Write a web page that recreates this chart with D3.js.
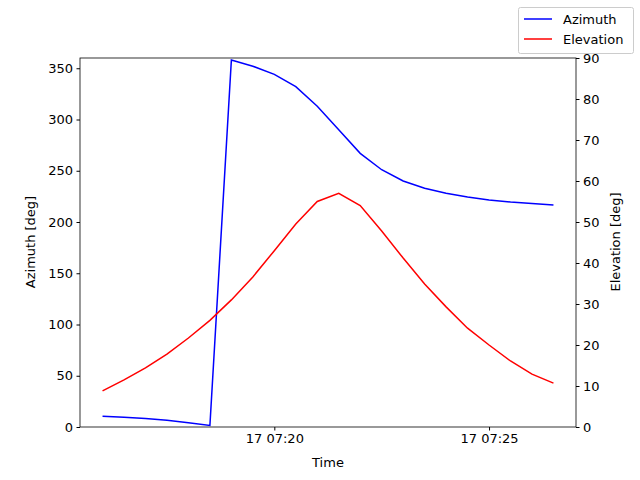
<!DOCTYPE html>
<html><head><meta charset="utf-8">
<script src="https://d3js.org/d3.v7.min.js"></script>
<style>body{margin:0;background:#fff}text{font-family:"DejaVu Sans",sans-serif}</style>
</head><body><svg id="c" width="640" height="480"></svg>
<script>
const times = d3.range(22).map(i => new Date(Date.UTC(2024,0,17,7,16,0) + i*30000));
const azimuth = [10.5,9.5,8.3,6.5,4.2,1.5,358,352,344,332,313,290,267,251,240,233,228,224.5,221.5,219.5,218,216.5];
const elevation = [8.8,11.5,14.4,17.8,21.7,26,31,36.6,43,49.5,55,57,54,47.8,41.2,34.9,29.3,24.1,20,16.1,12.9,10.7];
const xTicks = [new Date(Date.UTC(2024,0,17,7,20)), new Date(Date.UTC(2024,0,17,7,25))];
const azTicks = [0,50,100,150,200,250,300,350];
const elTicks = [0,10,20,30,40,50,60,70,80,90];

const svg = d3.select("#c");
const L=80,R=576,T=58,B=427;
const span = times[21]-times[0];
const x = d3.scaleUtc().domain([+times[0]-span*0.05, +times[21]+span*0.05]).range([L,R]);
const yA = d3.scaleLinear().domain([0,360]).range([B,T]);
const yE = d3.scaleLinear().domain([0,90]).range([B,T]);
const fmt = d3.utcFormat("%d %H:%M");
const FS = 13;

const style = g => { g.selectAll("text").attr("font-size",FS).attr("fill","#000"); g.select(".domain").remove(); g.selectAll("line").attr("stroke","#000"); };
svg.append("g").attr("transform",`translate(0,${B})`).call(d3.axisBottom(x).tickValues(xTicks).tickFormat(fmt).tickSizeOuter(0).tickSize(3.5).tickPadding(3.5)).call(style);
svg.append("g").attr("transform",`translate(${L},0)`).call(d3.axisLeft(yA).tickValues(azTicks).tickSize(3.5).tickPadding(3.5)).call(style);
svg.append("g").attr("transform",`translate(${R},0)`).call(d3.axisRight(yE).tickValues(elTicks).tickSize(3.5).tickPadding(3.5)).call(style);

const lineA = d3.line().x((d,i)=>x(times[i])).y(d=>yA(d));
const lineE = d3.line().x((d,i)=>x(times[i])).y(d=>yE(d));
svg.append("path").attr("d",lineA(azimuth)).attr("fill","none").attr("stroke","blue").attr("stroke-width",1.5);
svg.append("path").attr("d",lineE(elevation)).attr("fill","none").attr("stroke","red").attr("stroke-width",1.5);
svg.append("rect").attr("x",L).attr("y",T).attr("width",R-L).attr("height",B-T).attr("fill","none").attr("stroke","#000").attr("stroke-width",0.8);

svg.append("text").attr("x",(L+R)/2).attr("y",467).attr("text-anchor","middle").attr("font-size",FS).text("Time");
svg.append("text").attr("transform","translate(35,242) rotate(-90)").attr("text-anchor","middle").attr("font-size",FS).text("Azimuth [deg]");
svg.append("text").attr("transform","translate(620,242) rotate(-90)").attr("text-anchor","middle").attr("font-size",FS).text("Elevation [deg]");

const lg = svg.append("g");
lg.append("rect").attr("x",518.5).attr("y",7.5).attr("width",115).attr("height",46).attr("rx",2).attr("fill","#fff").attr("stroke","#ccc");
[["Azimuth","blue",19],["Elevation","red",39]].forEach(([t,c,y])=>{
  lg.append("line").attr("x1",524).attr("x2",552).attr("y1",y).attr("y2",y).attr("stroke",c).attr("stroke-width",1.5);
  lg.append("text").attr("x",563).attr("y",y+4.5).attr("font-size",FS).text(t);
});
</script></body></html>
